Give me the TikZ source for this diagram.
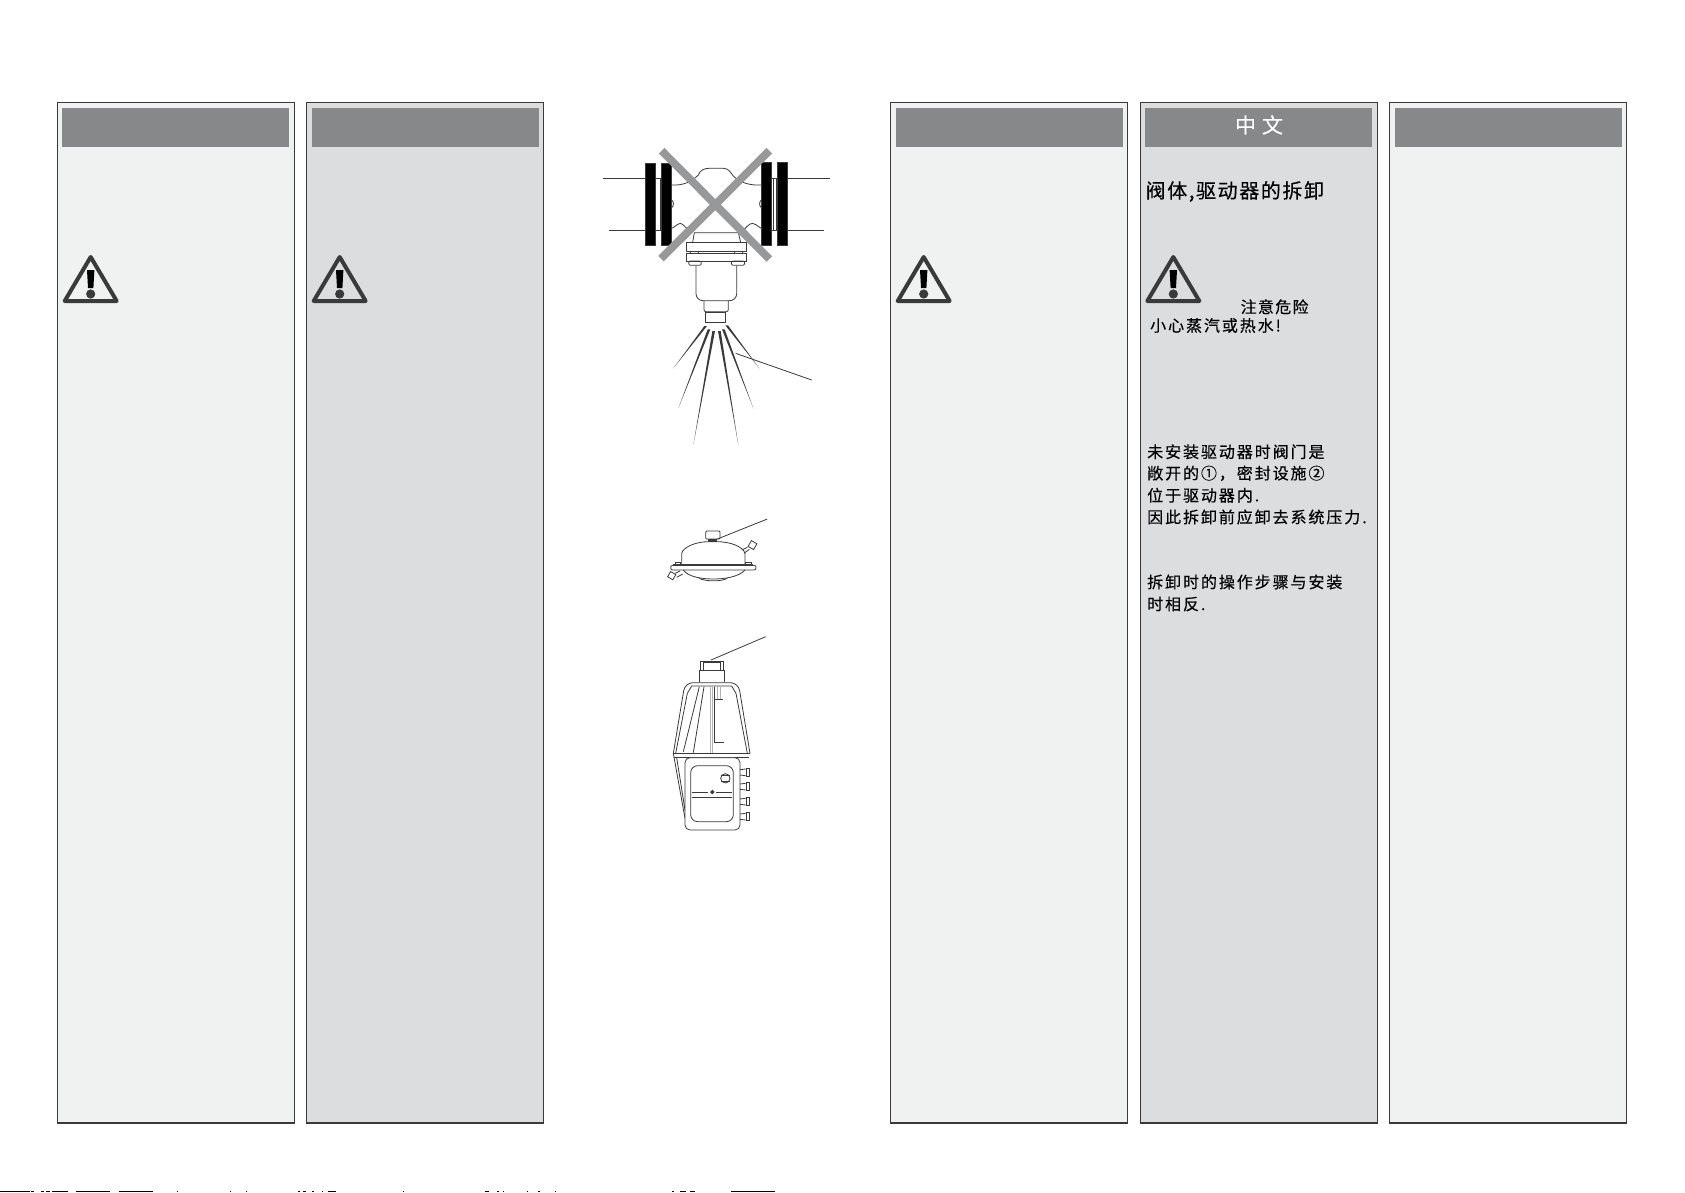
\documentclass[tikz,border=0pt]{standalone}
\usepackage{fontspec}
\usetikzlibrary{positioning}
\newfontfamily\cjk[LetterSpace=8,FakeBold=0.3]{Noto Sans CJK SC}
\newfontfamily\cjkwide[LetterSpace=12,FakeBold=0.3]{Noto Sans CJK SC}
\definecolor{panellight}{HTML}{F0F2F1}
\definecolor{paneldark}{HTML}{DCDDDF}
\definecolor{panelhead}{HTML}{87888A}
\definecolor{panelline}{HTML}{3A3A3A}
\definecolor{crossgray}{HTML}{97989A}
\begin{document}
\begin{tikzpicture}[x=1pt, y=-1pt,
    panel/.style={rectangle, draw=panelline, line width=1.3pt, anchor=north west, minimum width=237pt, minimum height=1020.5pt, inner sep=0pt, outer sep=0pt},
    head/.style={rectangle, fill=panelhead, minimum width=227pt, minimum height=38.5pt, inner sep=0pt},
    cntext/.style={anchor=west, inner sep=0pt, text=black, font=\cjkwide\fontsize{16}{16}\selectfont},
    part/.style={draw=panelline, line width=0.8pt},
    thickpart/.style={draw=panelline, line width=1.4pt},
    flange/.style={draw=panelline, fill=black, line width=1.2pt},
    warning/.pic={
        \draw[panelline, line width=4pt, line join=round, fill=none] (-26,46) -- (0,2) -- (26,46) -- cycle;
        \fill[black] (-3.7,15) -- (3.7,15) -- (2.7,33) -- (-2.7,33) -- cycle;
        \fill[panelline] (0,39) circle (4.6);
    }]
    \useasboundingbox (0,0) rectangle (1685,1192);
    \fill[white] (0,0) rectangle (1685,1192);

    % panels
    \node[panel, fill=panellight] (p1) at (57.5,102.5) {};
    \node[panel, fill=paneldark] (p2) at (306.5,102.5) {};
    \node[panel, fill=panellight] (p4) at (890.5,102.5) {};
    \node[panel, fill=paneldark] (p5) at (1140.5,102.5) {};
    \node[panel, fill=panellight] (p6) at (1389.5,102.5) {};

    \foreach \p/\d in {p1/-1,p2/0,p4/0,p5/-1,p6/0}
        \node[head, below=5.5pt of \p.north, xshift=\d pt] (\p head) {};

    % warning signs
    \pic at (90.7,255) {warning};
    \pic at (339.7,255) {warning};
    \pic at (923.7,255) {warning};
    \pic at (1173.3,255) {warning};

    % chinese column
    \node[inner sep=0pt, text=white, font=\cjk\fontsize{21}{21}\selectfont, xshift=1pt, yshift=2.5pt] (title) at (p5head) {中\hspace{6pt}文};
    \node[cntext, font=\cjk\fontsize{20}{20}\selectfont] (t1) at (1145.5,191.5) {阀体,驱动器的拆卸};
    \node[cntext, font=\cjk\fontsize{16}{16}\selectfont] (t2) at (1240.5,306.8) {注意危险};
    \node[cntext] (t3) at (1150,325.5) {小心蒸汽或热水!};
    \node[cntext] (t4) at (1147,451.8) {未安装驱动器时阀门是};
    \node[cntext] (t5) at (1147,473.3) {敞开的①，密封设施②};
    \node[cntext] (t6) at (1147,495.3) {位于驱动器内.};
    \node[cntext] (t7) at (1147,517) {因此拆卸前应卸去系统压力.};
    \node[cntext] (t8) at (1147,582) {拆卸时的操作步骤与安装};
    \node[cntext] (t9) at (1147,604) {时相反.};

    % valve with pipes
    \begin{scope}[shift={(560,120)}, x=1/3*1pt, y=-1/3*1pt]
        \draw[thickpart] (129,175) -- (256,175) (147,331) -- (256,331);
        \draw[thickpart] (683,175) -- (809,175) (683,331) -- (791,331);
        \draw[part] (287,175) rectangle (300,331);
        \draw[part] (635,175) rectangle (650,331);
        \draw[part] (640,175) -- (640,331);
        \draw[flange] (256,130) rectangle (287,376);
        \draw[flange] (304,130) rectangle (335,376);
        \draw[flange] (604,127) rectangle (635,376);
        \draw[flange] (652,127) rectangle (683,376);
        % body
        \draw[part] (335,195) .. controls (370,197) and (395,185) .. (415,165) .. controls (420,150) and (435,145) .. (445,145) -- (490,145) .. controls (505,145) and (510,155) .. (520,168) .. controls (540,188) and (570,197) .. (604,195);
        \draw[part] (335,325) .. controls (350,318) and (352,310) .. (360,310) .. controls (370,310) and (375,325) .. (390,330);
        \draw[part] (604,325) .. controls (590,318) and (587,310) .. (578,310) .. controls (565,310) and (560,325) .. (545,332);
        \draw[part] (335,240) .. controls (342,245) and (342,258) .. (335,263);
        \draw[part] (604,240) .. controls (597,245) and (597,258) .. (604,263);
        \draw[part] (398,367) -- (403,338) -- (535,338) -- (542,367);
        \draw[part] (380,367) rectangle (558,395);
        \draw[part] (380,400) rectangle (558,423);
        \draw[part] (390,395) rectangle (415,400) (522,395) rectangle (547,400);
        \draw[part, rounded corners=2pt] (386,423) rectangle (424,436) (514,423) rectangle (554,436);
        \draw[part, rounded corners=7pt] (408,437) -- (408,542) -- (530,542) -- (530,437);
        \draw[part, rounded corners=2pt] (432,542) -- (432,575) -- (505,575) -- (505,542);
        \draw[draw=panelline, line width=1.6pt] (437,577) rectangle (497,607);
        % spray
        \foreach \ax/\ay/\bx/\by in {437/618/340/745, 447/628/355/865, 461/633/400/975, 478/633/535/975, 490/628/580/865, 500/616/598/745}
            \fill[panelline] (\ax-4,\ay) -- (\ax+4,\ay) -- (\bx,\by) -- cycle;
        \draw[part] (527,700) -- (755,780);
        % cross
        \draw[crossgray, line width=7.8pt] (305,92) -- (628,417);
        \draw[crossgray, line width=7.8pt] (628,92) -- (303,416);
    \end{scope}

    % diaphragm actuator
    \begin{scope}[shift={(630,490)}, x=1/3*1pt, y=-1/3*1pt]
        \draw[part] (262,147) -- (412,87);
        \draw[part, rounded corners=1pt] (227,123) rectangle (270,147);
        \fill[panelline] (235,147) rectangle (262,155);
        \draw[part] (155,224) -- (155,190) .. controls (160,170) and (200,155) .. (235,155) -- (262,155) .. controls (300,155) and (340,170) .. (345,190) -- (345,224);
        \draw[thickpart] (130,225) -- (370,225);
        \draw[part, rounded corners=2pt] (122,226) rectangle (378,240);
        \draw[part] (160,240) .. controls (175,262) and (220,267) .. (250,267) .. controls (280,267) and (325,262) .. (345,240);
        \draw[part] (208,265) .. controls (225,275) and (275,275) .. (292,265);
        \draw[part] (335,180) -- (352,172) (342,190) -- (358,178);
        \draw[part, rotate around={-30:(367,165)}] (358,155) rectangle (377,175);
        \draw[part] (150,243) -- (135,250) (158,252) -- (140,262);
        \draw[part, rotate around={-30:(125,257)}] (116,248) rectangle (134,266);
        \draw[part] (135,218) rectangle (152,225) (347,218) rectangle (365,225);
    \end{scope}

    % electric actuator
    \begin{scope}[shift={(630,490)}, x=1/3*1pt, y=-1/3*1pt]
        \draw[part] (243,510) -- (407,440);
        \draw[part] (211,515) rectangle (281,542);
        \draw[thickpart] (220,518) rectangle (272,541);
        \draw[part] (208,577) -- (208,542) -- (284,542) -- (284,577);
        \draw[part, rounded corners=8pt] (130,790) -- (165,578) -- (325,578) -- (360,790);
        \draw[part] (137,790) -- (172,610) -- (185,588) -- (305,588) -- (318,610) -- (352,790);
        \draw[thickpart] (128,790) -- (360,790);
        \draw[part] (131,803) -- (358,803);
        \draw[part] (160,785) -- (208,590) (190,788) -- (222,590);
        \draw[part, gray!60] (240,788) -- (240,590) (247,788) -- (247,590);
        \draw[part] (252,590) -- (252,758) -- (283,758) (252,628) -- (280,628);
        \draw[part, gray!60] (262,590) -- (262,628) (272,590) -- (272,628);
        \draw[part] (130,790) -- (165,985) (140,803) -- (165,960);
        \draw[part, fill=white, rounded corners=5pt] (165,803) rectangle (330,1020);
        \draw[part, rounded corners=7pt] (182,827) rectangle (310,995);
        \draw[part] (286,865) circle (14);
        \draw[part] (272,857) -- (300,857) (272,873) -- (300,873);
        \draw[thickpart] (185,922) -- (305,922);
        \draw[part] (185,906) -- (235,906) (258,906) -- (305,906);
        \fill[panelline] (247,899) -- (254,906) -- (247,913) -- (240,906) -- cycle;
        \foreach \y in {847,890,935,980} {
            \draw[part] (330,\y-8) -- (347,\y-10) (330,\y+8) -- (347,\y+10);
            \draw[thickpart] (349,\y-12) rectangle (359,\y+12);
        }
    \end{scope}

    % cut-off marks at the lower edge
    \foreach \a/\b in {0/30,31/34,41/44,46/50,52/68,76/110,119/153,177/178,230/231,246/247,298/300,303/306,312/314,322/323,328/336,403/404,485/489,497/499,503/504,527/528,538/540,555/556,672/674,680/686,690/695,731/775}
        \fill[black] (\a,1191.3) rectangle (\b,1192);
\end{tikzpicture}
\end{document}
